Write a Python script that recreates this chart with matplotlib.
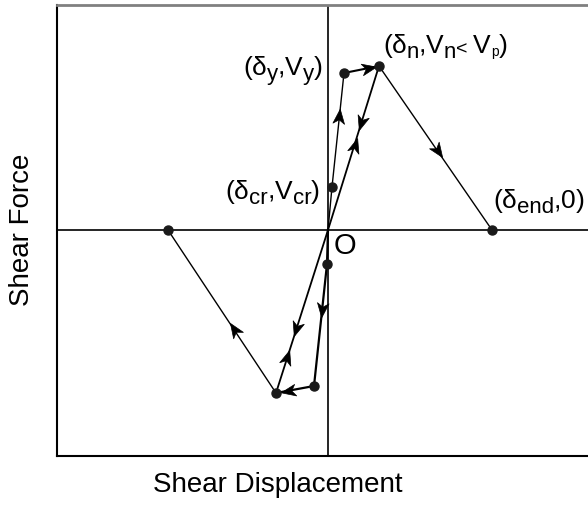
import numpy as np
import matplotlib
matplotlib.use("Agg")
import matplotlib.pyplot as plt
from matplotlib.path import Path
from matplotlib.markers import MarkerStyle
from matplotlib.transforms import Affine2D, offset_copy

plt.rcParams['font.family'] = ['Liberation Sans', 'DejaVu Sans']

# Points clés de la courbe (déplacement, effort)
pt_names = ["O", "cr", "y", "n", "end", "cr_neg", "y_neg", "n_neg", "end_neg"]
disp = [0, 4, 16, 51, 164, -1, -14, -52, -160]
force = [0, 43, 157, 164, 0, -34, -156, -163, 0]
P = {k: (x, v) for k, x, v in zip(pt_names, disp, force)}

# Branches: (points, épaisseur)
branches = [
    (["O", "cr", "y"], 1.0),
    (["y", "n"], 1.5),
    (["n", "end"], 1.0),
    (["n", "O", "n_neg"], 1.3),
    (["O", "cr_neg", "y_neg"], 1.6),
    (["y_neg", "n_neg"], 1.6),
    (["n_neg", "end_neg"], 1.0),
]

# Flèches: (départ, arrivée, position relative sur le segment)
arrows = [
    ("cr", "y", 0.62),
    ("y", "n", 0.72),
    ("n", "end", 0.52),
    ("n", "O", 0.35),
    ("O", "n", 0.52),
    ("O", "n_neg", 0.61),
    ("n_neg", "O", 0.22),
    ("cr_neg", "y_neg", 0.38),
    ("y_neg", "n_neg", 0.68),
    ("n_neg", "end_neg", 0.39),
]

fig = plt.figure(figsize=(5.88, 5.08), dpi=100)
ax = fig.add_axes([57 / 588, 52 / 508, 531 / 588, 451 / 508])
ax.set_xlim(-271, 260)
ax.set_ylim(-226, 225)

for names, lw in branches:
    xs = [P[k][0] for k in names]
    ys = [P[k][1] for k in names]
    ax.plot(xs, ys, color="black", lw=lw, zorder=3)

# tête de flèche type "stealth"
head = Path([(1.0, 0.0), (-1.0, 0.8), (-0.45, 0.0), (-1.0, -0.8), (1.0, 0.0)],
            [Path.MOVETO, Path.LINETO, Path.LINETO, Path.LINETO, Path.CLOSEPOLY])
for a, b, f in arrows:
    (x0, y0), (x1, y1) = P[a], P[b]
    ang = np.degrees(np.arctan2(y1 - y0, x1 - x0))
    m = MarkerStyle(head, transform=Affine2D().rotate_deg(ang))
    ax.plot(x0 + f * (x1 - x0), y0 + f * (y1 - y0), marker=m, ms=10.5,
            color="black", mec="black", mew=0.5, zorder=4)

pts = ["cr", "y", "n", "end", "cr_neg", "y_neg", "n_neg", "end_neg"]
ax.plot([P[k][0] for k in pts], [P[k][1] for k in pts], "o", color="#1a1a1a",
        ms=6.5, zorder=5)

ax.axhline(0, color="black", lw=1.2, zorder=2)
ax.axvline(0, color="black", lw=1.2, zorder=2)

renderer = fig.canvas.get_renderer()


def rich_text(x, y, pieces, ha="left"):
    """Texte avec indices: pieces = [(texte, taille, décalage vertical en px)]"""
    items = []
    dx = 0.0
    for s, size, dy in pieces:
        t = ax.text(x, y, s, fontsize=size, ha="left", va="baseline",
                    transform=offset_copy(ax.transData, fig=fig, x=dx, y=dy, units="dots"))
        w = t.get_window_extent(renderer).width
        items.append((t, dx, dy))
        dx += w
    if ha == "right":
        for t, ox, dy in items:
            t.set_transform(offset_copy(ax.transData, fig=fig, x=ox - dx, y=dy, units="dots"))


M, S = 19, 16   # taille normale / indice
d = -5          # abaissement des indices
rich_text(-5, 155, [("(", M, 0), ("δ", M, 0), ("y", S, d), (",", M, 0),
                    ("V", M, 0), ("y", S, d), (")", M, 0)], ha="right")
rich_text(55, 177, [("(", M, 0), ("δ", M, 0), ("n", S, d), (",", M, 0),
                    ("V", M, 0), ("n", S, d), ("< ", 14, -1), ("V", M, 0),
                    ("p", 10, -3), (")", M, 0)])
rich_text(-8, 31, [("(", M, 0), ("δ", M, 0), ("cr", S, d), (",", M, 0),
                   ("V", M, 0), ("cr", S, d), (")", M, 0)], ha="right")
rich_text(165, 22, [("(", M, 0), ("δ", M, 0), ("end", S, d), (",", M, 0),
                    ("0", M, 0), (")", M, 0)])
ax.text(6, -24, "O", ha="left", va="baseline", fontsize=21)

ax.set_xticks([])
ax.set_yticks([])
ax.spines["right"].set_visible(False)
ax.spines["top"].set_color("#808080")
ax.spines["top"].set_linewidth(2)
ax.spines["left"].set_linewidth(1.5)
ax.spines["bottom"].set_linewidth(1.5)

fig.text(278 / 588, 1 - 485 / 508, "Shear Displacement", ha="center", va="center", fontsize=20)
fig.text(22 / 588, 1 - 230 / 508, "Shear Force", ha="center", va="center",
         rotation=90, fontsize=20)

fig.savefig("out.png", dpi=100)
